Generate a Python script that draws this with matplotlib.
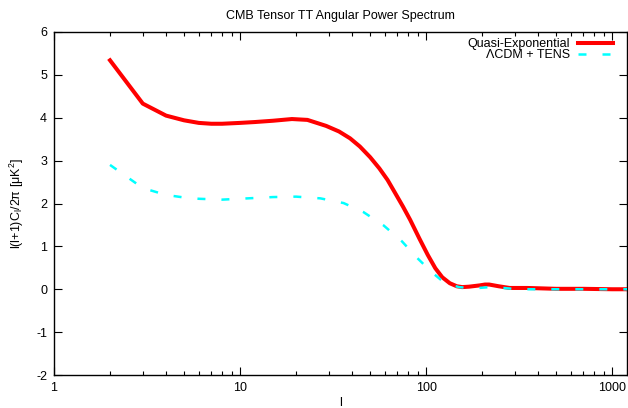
import matplotlib
matplotlib.use("Agg")
import matplotlib.pyplot as plt
from matplotlib.ticker import FixedLocator, NullFormatter, LogLocator

plt.rcParams['font.family'] = ['Liberation Sans', 'DejaVu Sans']
plt.rcParams['mathtext.fontset'] = 'custom'
plt.rcParams['mathtext.rm'] = 'Liberation Sans'
plt.rcParams['mathtext.it'] = 'Liberation Sans'
plt.rcParams['mathtext.default'] = 'regular'

title = "CMB Tensor TT Angular Power Spectrum"
xlabel = "l"
ylabel = "l(l+1)C$_l$/2π [μK$^2$]"
label_qe = "Quasi-Exponential"
label_lcdm = "ΛCDM + TENS"

l_qe = [2, 3, 4, 5, 6, 7, 8, 10, 12, 15, 19, 23, 29, 34, 39, 44, 50, 56, 62, 68,
        75, 82, 92, 102, 112, 122, 134, 146, 156, 170, 194, 207, 218, 245,
        281, 350, 420, 500, 700, 1000, 1200]
cl_qe = [5.34, 4.33, 4.05, 3.94, 3.88, 3.86, 3.86, 3.88, 3.90, 3.93, 3.97, 3.95,
         3.81, 3.68, 3.52, 3.33, 3.08, 2.82, 2.55, 2.25, 1.93, 1.62, 1.18, 0.80,
         0.49, 0.28, 0.14, 0.07, 0.05, 0.06, 0.09, 0.11, 0.11, 0.07, 0.03,
         0.03, 0.02, 0.01, 0.01, 0.0, 0.0]

l_lcdm = [2, 3, 4, 5, 6, 8, 11, 15, 20, 27, 36, 46, 59, 74, 89, 107, 120, 134,
          150, 179, 220, 260, 310, 400, 600, 1000, 1200]
cl_lcdm = [2.90, 2.36, 2.20, 2.14, 2.11, 2.09, 2.12, 2.15, 2.16, 2.12, 2.01,
           1.80, 1.49, 1.12, 0.74, 0.40, 0.22, 0.11, 0.05, 0.02, 0.05, 0.03, 0.0,
           0.0, 0.0, 0.0, 0.0]

x_ticks = [1, 10, 100, 1000]
x_ticklabels = ["1", "10", "100", "1000"]
y_ticks = [-2, -1, 0, 1, 2, 3, 4, 5, 6]

fig = plt.figure(figsize=(6.28, 4.08), dpi=100)
ax = fig.add_axes([54/628, 1 - 375/408, (627-54)/628, (375-32)/408])

ax.plot(l_qe, cl_qe, color='#ff0000', lw=2.9, label=label_qe, zorder=2,
        solid_joinstyle='round')
ax.plot(l_lcdm, cl_lcdm, color='#00ffff', lw=1.8, dashes=(3.2, 6.4),
        label=label_lcdm, zorder=3)

ax.set_xscale('log')
ax.set_xlim(1, 1200)
ax.set_ylim(-2, 6)
ax.xaxis.set_major_locator(FixedLocator(x_ticks))
ax.set_xticklabels(x_ticklabels)
ax.xaxis.set_minor_locator(LogLocator(base=10, subs=range(2, 10), numticks=20))
ax.xaxis.set_minor_formatter(NullFormatter())
ax.set_yticks(y_ticks)
ax.set_yticklabels([str(v) for v in y_ticks])

ax.tick_params(which='both', direction='in', top=True, right=True,
               labelsize=9, width=0.8, colors='black', pad=5)
ax.tick_params(which='major', length=6)
ax.tick_params(which='minor', length=3)
for s in ax.spines.values():
    s.set_linewidth(1.0)

ax.set_title(title, fontsize=9, pad=9)
ax.set_xlabel(xlabel, fontsize=9, labelpad=2)
ax.set_ylabel(ylabel, fontsize=9, labelpad=7)

leg = ax.legend(loc='upper right', frameon=False, markerfirst=False, fontsize=9,
                handlelength=2.8, handletextpad=0.65, labelspacing=-0.05,
                borderpad=0, borderaxespad=0,
                bbox_to_anchor=((613 - 54) / 573, 1 - (38 - 32) / 343))

fig.savefig("out.png", dpi=100)
